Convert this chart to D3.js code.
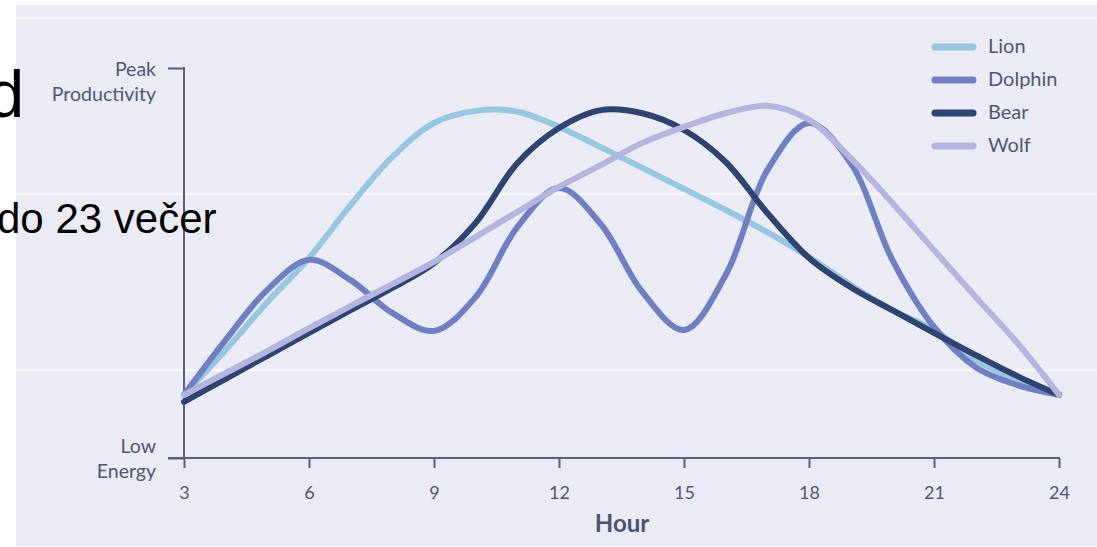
<!DOCTYPE html>
<html>
<head>
<meta charset="utf-8">
<script src="https://cdn.jsdelivr.net/npm/d3@7/dist/d3.min.js"></script>
<style>
  html, body { margin: 0; padding: 0; background: #ffffff; }
  svg { display: block; }
</style>
</head>
<body>
<svg id="chart" width="1097" height="547"></svg>
<script>
// ---- data (energy level, 0 = Low Energy, 100 = Peak Productivity) ----
const hours = [3,4,5,6,7,8,9,10,11,12,13,14,15,16,17,18,19,20,21,22,23,24];
const lion    = [16.2,27.7,40.0,51.3,64.9,77.2,85.9,89.0,88.8,84.9,79.7,74.4,69.0,63.6,57.9,51.5,44.4,37.9,32.8,25.1,20.0,16.2];
const dolphin = [16.2,30.3,43.1,50.8,45.6,37.2,32.6,41.3,59.2,69.2,60.0,42.6,32.8,46.9,73.8,85.9,75.6,50.8,33.6,23.3,18.7,16.2];
const bear    = [14.4,20.3,26.2,32.1,37.9,43.6,50.0,60.3,75.6,84.6,89.2,88.4,84.1,75.9,62.8,51.3,43.8,37.9,32.1,26.4,21.0,16.2];
const wolf    = [16.2,21.8,27.4,33.3,39.0,44.6,50.3,56.7,63.1,69.5,75.1,80.8,84.9,88.4,90.3,86.7,76.9,65.4,53.3,41.3,29.5,16.2];
const seriesNames = ["Lion","Dolphin","Bear","Wolf"];
const xTicks = [3,6,9,12,15,18,21,24];
const yTickLabels = [["Low","Energy"],["Peak","Productivity"]];
const yTickValues = [0,100];
const xTitle = "Hour";
const overlayTexts = ["d","do 23 večer"];

const seriesValues = [lion, dolphin, bear, wolf];
const colors = ["#96c6e0","#6f7fc2","#2f4370","#b3b5de"];

const svg = d3.select("#chart");
const W = 1097, H = 547;
const axisColor = "#58607c";
const textColor = "#4f5774";

// panel background
svg.append("rect").attr("x",16).attr("y",5).attr("width",W-16).attr("height",541).attr("fill","#ebebf5");
// faint white guide lines of the slide
[18,194,370].forEach(yy => {
  svg.append("line").attr("x1",16).attr("x2",W).attr("y1",yy).attr("y2",yy)
    .attr("stroke","#ffffff").attr("stroke-width",1.3).attr("opacity",0.9);
});

const x = d3.scaleLinear().domain([3,24]).range([184,1059]);
const y = d3.scaleLinear().domain([0,100]).range([458,68]);

// x axis
const xAxis = d3.axisBottom(x).tickValues(xTicks).tickSize(10).tickSizeOuter(0).tickPadding(14);
const gx = svg.append("g").attr("transform",`translate(0,${y(0)})`).call(xAxis);
gx.select(".domain").remove();
gx.selectAll(".tick line").attr("stroke",axisColor).attr("stroke-width",2);
gx.selectAll(".tick text").attr("fill",textColor).style("font-family","Lato").style("font-size","18px").attr("dy","0.95em");
svg.append("line").attr("x1",168).attr("x2",x(24)+1).attr("y1",y(0)).attr("y2",y(0)).attr("stroke",axisColor).attr("stroke-width",2);

// y axis
const yAxis = d3.axisLeft(y).tickValues(yTickValues).tickSize(16).tickSizeOuter(0).tickFormat("");
const gy = svg.append("g").attr("transform",`translate(${x(3)},0)`).call(yAxis);
gy.select(".domain").remove();
gy.selectAll(".tick line").attr("stroke",axisColor).attr("stroke-width",2);
svg.append("line").attr("x1",x(3)).attr("x2",x(3)).attr("y1",y(100)-1).attr("y2",y(0)).attr("stroke",axisColor).attr("stroke-width",2);
gy.selectAll(".tick").each(function(d){
  const idx = yTickValues.indexOf(d);
  const lines = yTickLabels[idx];
  const y0 = idx === 1 ? 7 : -6;
  const t = d3.select(this).append("text").attr("text-anchor","end")
    .attr("fill",textColor).style("font-family","Lato").style("font-size","19.5px");
  t.append("tspan").attr("x",-28).attr("y",y0).text(lines[0]);
  t.append("tspan").attr("x",-28).attr("y",y0+25).text(lines[1]);
});

// x title
svg.append("text").attr("x",622).attr("y",532).attr("text-anchor","middle")
  .attr("fill","#4a5270").style("font-family","Lato").style("font-weight","bold").style("font-size","24px").text(xTitle);

// lines
const line = d3.line().x((d,i)=>x(hours[i])).y(d=>y(d)).curve(d3.curveCatmullRom.alpha(0.5));
seriesValues.forEach((vals,i)=>{
  svg.append("path").datum(vals).attr("d",line).attr("fill","none")
    .attr("stroke",colors[i]).attr("stroke-width",6).attr("stroke-linecap","round").attr("stroke-linejoin","round");
});

// legend
const legend = svg.append("g");
seriesNames.forEach((n,i)=>{
  const ly = 47 + i*33;
  legend.append("line").attr("x1",935).attr("x2",973).attr("y1",ly).attr("y2",ly)
    .attr("stroke",colors[i]).attr("stroke-width",7).attr("stroke-linecap","round");
  legend.append("text").attr("x",988).attr("y",ly+6).attr("fill",textColor)
    .style("font-family","Lato").style("font-size","20px").text(n);
});

// slide overlay text
svg.append("text").attr("x",-13).attr("y",117).attr("fill","#000").style("font-family","Liberation Sans, Arial").style("font-size","67px").text(overlayTexts[0]);
svg.append("text").attr("x",-3).attr("y",233).attr("fill","#000").style("font-family","Liberation Sans, Arial").style("font-size","42px").text(overlayTexts[1]);
</script>
</body>
</html>
